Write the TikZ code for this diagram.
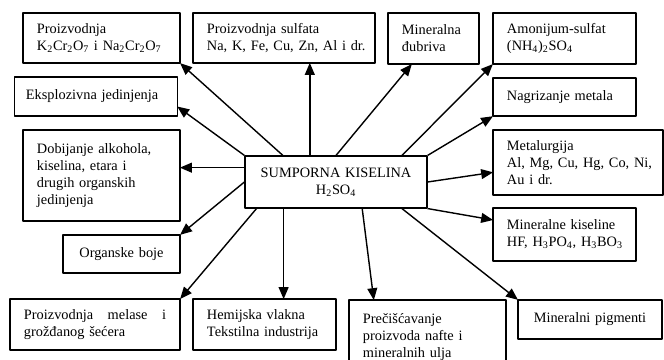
\documentclass[tikz,border=0pt]{standalone}
\usepackage{fontspec}
\setmainfont{Liberation Serif}
\usetikzlibrary{arrows.meta,calc}
\begin{document}
\begin{tikzpicture}[x=0.025cm,y=-0.025cm,line join=round,
	box/.style={draw,line width=0.8pt,inner xsep=0.35cm,inner ysep=0pt,align=left,font=\fontsize{10.2}{12}\selectfont},
	arr/.style={line width=1pt,-{Triangle[length=8.5pt,width=7pt]},shorten >=-0.5pt}]
	\useasboundingbox (0,0) rectangle (664,360);
	\node[box,text width=3.225cm,minimum height=1.25cm] (prodK) at (101.5,38) {Proizvodnja\\\mbox{K\textsubscript{2}Cr\textsubscript{2}O\textsubscript{7} i Na\textsubscript{2}Cr\textsubscript{2}O\textsubscript{7}}};
	\node[box,text width=3.85cm,minimum height=1.25cm] (sulfat) at (284,38) {Proizvodnja sulfata\\\mbox{Na, K, Fe, Cu, Zn, Al i dr.}};
	\node[box,text width=1.575cm,minimum height=1.275cm] (djubr) at (433.5,38.5) {Mineralna\\đubriva};
	\node[box,text width=2.875cm,minimum height=1.275cm] (amon) at (564.5,38.5) {Amonijum-sulfat\\(NH\textsubscript{4})\textsubscript{2}SO\textsubscript{4}};
	\node[box,text width=3.5cm,minimum height=0.975cm,inner xsep=0.28cm] (eksplo) at (96,96.5) {Eksplozivna jedinjenja};
	\node[box,text width=2.875cm,minimum height=0.95cm] (nagriz) at (564.5,97) {Nagrizanje metala};
	\node[box,text width=3.225cm,minimum height=2.275cm] (dobij) at (101.5,175.5) {Dobijanje alkohola,\\kiselina, etara i\\drugih organskih\\jedinjenja};
	\node[box,text width=3.55cm,minimum height=1.625cm] (metal) at (578,162.5) {Metalurgija\\\mbox{Al, Mg, Cu, Hg, Co, Ni,}\\Au i dr.};
	\node[box,text width=2.875cm,minimum height=1.325cm] (kiseline) at (564.5,234.5) {Mineralne kiseline\\\mbox{HF, H\textsubscript{3}PO\textsubscript{4}, H\textsubscript{3}BO\textsubscript{3}}};
	\node[box,text width=2.225cm,minimum height=0.95cm,align=center] (boje) at (121.5,254) {Organske boje};
	\node[box,text width=3.55cm,minimum height=1.275cm] (melasa) at (95,324.5) {Proizvodnja\hfill melase\hfill i\\grožđanog šećera};
	\node[box,text width=2.875cm,minimum height=1.275cm] (vlakna) at (264.5,324.5) {Hemijska vlakna\\\mbox{Tekstilna industrija}};
	\node[box,text width=3.225cm,minimum height=1.85cm] (precis) at (427.5,337) {Prečišćavanje\\proizvoda nafte i\\mineralnih ulja};
	\node[box,text width=2.9cm,minimum height=0.975cm,align=center] (pigment) at (590,319.5) {Mineralni pigmenti};
	\node[box,text width=3.85cm,minimum height=1.3cm,align=center] (sk) at (336,182) {SUMPORNA KISELINA\\H\textsubscript{2}SO\textsubscript{4}};
	\draw[arr] ($(sk.north west)!0.21!(sk.north east)$) -- (prodK.south east);
	\draw[arr] (sk.north west) -- ($(eksplo.north east)!0.76!(eksplo.south east)$);
	\coordinate (a3) at ($(sk.north west)!0.357!(sk.north east)$);
	\draw[arr] (a3) -- (a3 |- sulfat.south);
	\draw[arr] (sk.north) -- ($(djubr.south west)!0.26!(djubr.south east)$);
	\draw[arr] ($(sk.north west)!0.86!(sk.north east)$) -- (amon.south west);
	\draw[arr] (sk.north east) -- (nagriz.south west);
	\coordinate (a7) at ($(sk.north west)!0.23!(sk.south west)$);
	\draw[arr] (a7) -- (a7 -| dobij.east);
	\draw[arr] (sk.east) -- ($(metal.north west)!0.65!(metal.south west)$);
	\draw[arr] (sk.south east) -- ($(kiseline.north west)!0.23!(kiseline.south west)$);
	\draw[arr] (sk.west) -- (boje.north east);
	\draw[arr] ($(sk.south west)!0.066!(sk.south east)$) -- (melasa.north east);
	\coordinate (a12) at ($(sk.south west)!0.214!(sk.south east)$);
	\draw[arr] (a12) -- (a12 |- vlakna.north);
	\draw[arr] ($(sk.south west)!0.643!(sk.south east)$) -- ($(precis.north west)!0.16!(precis.north east)$);
	\draw[arr] ($(sk.south west)!0.86!(sk.south east)$) -- (pigment.north west);
\end{tikzpicture}
\end{document}
